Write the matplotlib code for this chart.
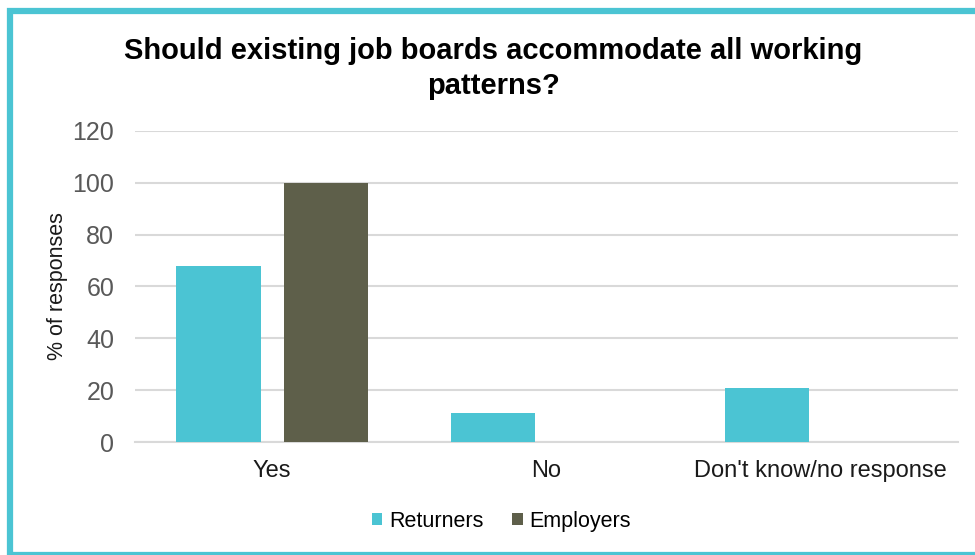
import matplotlib
matplotlib.use("Agg")
import matplotlib.pyplot as plt
from matplotlib.patches import Rectangle
import numpy as np

plt.rcParams['font.family'] = ['Liberation Sans', 'DejaVu Sans']

categories = ["Yes", "No", "Don't know/no response"]
returners = [68, 11, 21]
employers = [100, 0, 0]
yticks = [0, 20, 40, 60, 80, 100, 120]

teal = "#4BC4D3"
olive = "#5E5F4A"
grid = "#D9D9D9"

fig = plt.figure(figsize=(9.75, 5.55), dpi=100)
ax = fig.add_axes([0.1385, 0.2036, 0.844, 0.5604])

x = np.arange(len(categories))
w = 0.307
off = 0.196
ax.bar(x - off, returners, w, color=teal, label="Returners", zorder=3)
ax.bar(x + off, employers, w, color=olive, label="Employers", zorder=3)

ax.set_xlim(-0.5, 2.5)
ax.set_ylim(0, 120)
ax.set_yticks(yticks)
ax.set_xticks(x)
ax.set_xticklabels(categories, fontsize=17, color="#1a1a1a")
ax.tick_params(axis='y', labelsize=18, labelcolor="#595959", length=0, pad=15)
ax.tick_params(axis='x', length=0, pad=13)
ax.grid(axis='y', color=grid, linewidth=1.5, zorder=0)
for s in ['top', 'right', 'left']:
    ax.spines[s].set_visible(False)
ax.spines['bottom'].set_color(grid)
ax.spines['bottom'].set_linewidth(1.5)

ax.set_ylabel("% of responses", fontsize=15.5, color="#1a1a1a", labelpad=3)

fig.text(0.506, 0.876, "Should existing job boards accommodate all working\npatterns?",
         ha='center', va='center', fontsize=21, fontweight='bold', linespacing=1.32)

ax.legend(loc='center', bbox_to_anchor=(0.445, -0.255), ncol=2, frameon=False,
          fontsize=15.5, handlelength=0.5, handleheight=0.5, handletextpad=0.3,
          columnspacing=1.35)

# teal frame around the chart
fig.patches.append(Rectangle((9.5 / 975, 0.0), 1.2, (555 - 10.5) / 555,
                             transform=fig.transFigure, fill=False,
                             edgecolor=teal, linewidth=4.5))

fig.savefig("out.png", dpi=100, facecolor="white")
